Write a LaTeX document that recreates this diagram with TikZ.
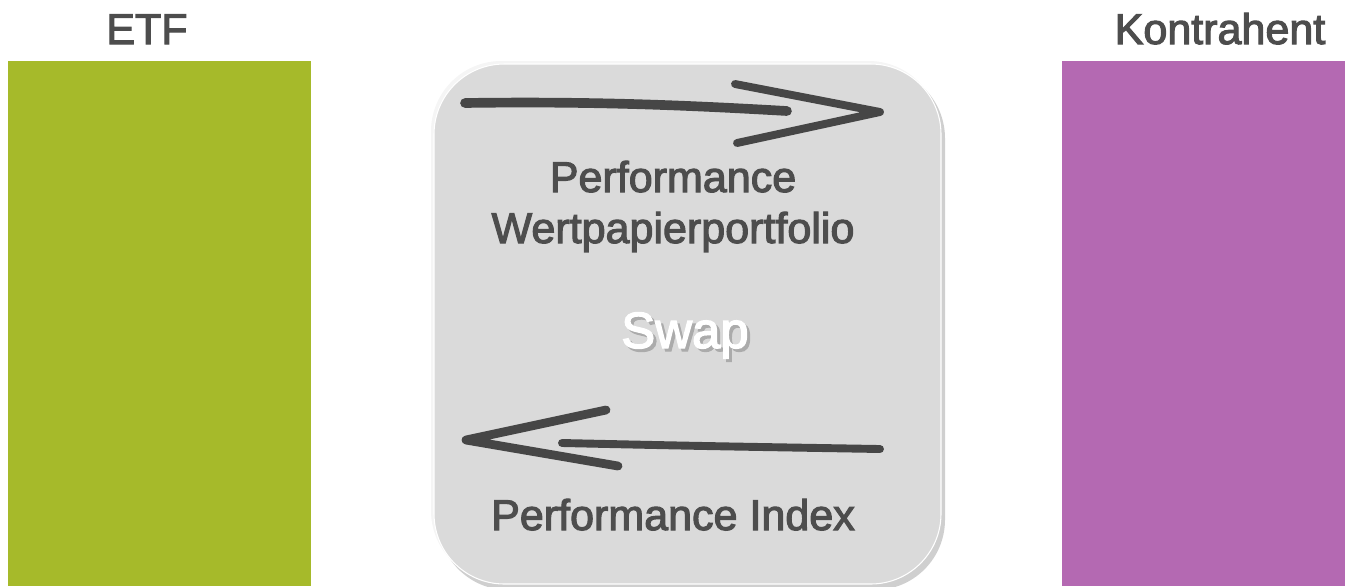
\documentclass[tikz,border=0pt]{standalone}
\usepackage{fontspec}
\setmainfont{Liberation Sans}
\newfontfamily\labelfont[FakeBold=2.6]{Liberation Sans}
\definecolor{etfgreen}{HTML}{A6BA2A}
\definecolor{partnerpurple}{HTML}{B469B2}
\definecolor{labelgray}{HTML}{4D4D4D}
\definecolor{pengray}{HTML}{464646}
\definecolor{boxgray}{HTML}{DADADA}
\begin{document}
\begin{tikzpicture}[x=0.02cm, y=-0.02cm,
  label/.style={font=\labelfont\fontsize{24.5}{30}\selectfont, text=labelgray, inner sep=0pt, anchor=base},
  swaptext/.style={font=\labelfont\fontsize{29}{33}\selectfont, inner sep=0pt, anchor=base},
  pen/.style={draw=pengray, line width=4.5pt, line cap=round, line join=round}]
\useasboundingbox (0,0) rectangle (1345,586);

% Parties
\fill[etfgreen] (8,61) rectangle (311,586);
\node[label] (etf) at (147,44) {ETF};
\fill[partnerpurple] (1062,61) rectangle (1345,586);
\node[label] (partner) at (1220,44) {Kontrahent};

% Swap box with shadow and halo
\fill[black!19, rounded corners=40pt] (438,68) rectangle (945,590);
\fill[black!4, rounded corners=40pt] (431,61) rectangle (939,581);
\filldraw[fill=boxgray, draw=white, line width=0.6pt, rounded corners=40pt] (434,64) rectangle (941,584);

% Upper leg
\draw[pen, line width=5.5pt] (465,103) .. controls (600,101) and (700,106) .. (787,111);
\draw[pen] (735,84) -- (880,112) -- (737,143);
\node[label] (outperf) at (673,192) {Performance};
\node[label] (outport) at (673,243) {Wertpapierportfolio};

% Swap title
\node[swaptext, text=black!33] at (688,351) {Swap};
\node[swaptext, text=white] (swap) at (685,348) {Swap};

% Lower leg
\draw[pen, line width=4.5pt] (562,443) .. controls (700,446) .. (880,449);
\draw[pen, line width=5pt] (606,410) -- (466,440) -- (618,466);
\node[label] (inperf) at (673,530) {Performance Index};
\end{tikzpicture}
\end{document}
